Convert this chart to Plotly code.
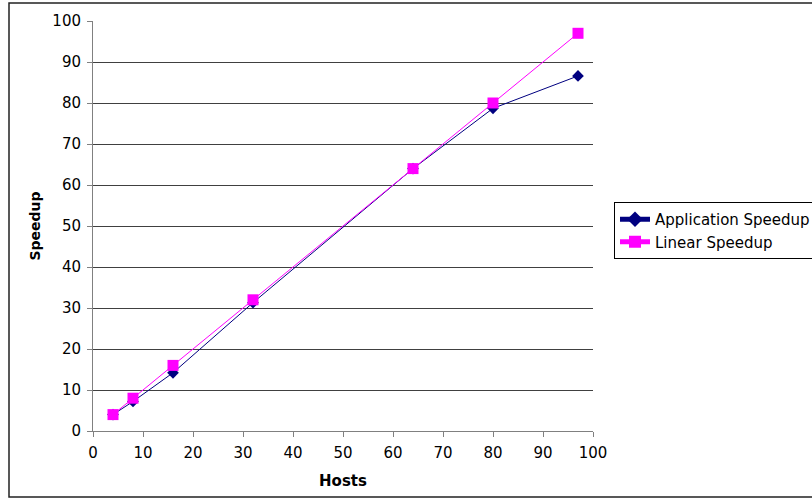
import plotly.graph_objects as go

hosts = [4, 8, 16, 32, 64, 80, 97]
app_speedup = [4, 7.2, 14.2, 31.3, 64, 78.7, 86.6]
linear_speedup = [4, 8, 16, 32, 64, 80, 97]

fig = go.Figure()
fig.add_trace(go.Scatter(x=hosts, y=app_speedup, mode="lines+markers",
                         name="Application Speedup",
                         line=dict(color="#000080", width=1),
                         marker=dict(symbol="diamond", size=9, color="#000080")))
fig.add_trace(go.Scatter(x=hosts, y=linear_speedup, mode="lines+markers",
                         name="Linear Speedup",
                         line=dict(color="#FF00FF", width=1),
                         marker=dict(symbol="square", size=11, color="#FF00FF")))

L, R, T, B = 93, 593, 21, 431
W, H = 812, 501
pw, ph = R - L, B - T

fig.update_layout(
    width=W, height=H,
    margin=dict(l=L, r=W - R, t=T, b=H - B, autoexpand=False),
    paper_bgcolor="white", plot_bgcolor="white",
    font=dict(family="DejaVu Sans, Arial, sans-serif", size=15, color="black"),
    showlegend=True,
    legend=dict(x=(614 - L) / pw, y=(B - 202) / ph, xanchor="left", yanchor="top",
                bordercolor="black", borderwidth=1, bgcolor="white",
                font=dict(size=15), tracegroupgap=0, itemsizing="constant"),
    xaxis=dict(range=[0, 100], dtick=10, tick0=0, showgrid=False, zeroline=False,
               showline=True, linecolor="#808080", linewidth=1,
               ticks="outside", ticklen=5, tickcolor="#808080", ticklabelstandoff=3,
               tickfont=dict(size=15),
               title=dict(text="<b>Hosts</b>", standoff=14, font=dict(size=15))),
    yaxis=dict(range=[0, 100], dtick=10, tick0=0, showgrid=True, gridcolor="#404040",
               gridwidth=1, zeroline=False,
               showline=True, linecolor="#808080", linewidth=1,
               ticks="outside", ticklen=5, tickcolor="#808080", ticklabelstandoff=3,
               tickfont=dict(size=15),
               title=dict(text="<b>Speedup</b>", standoff=8, font=dict(size=14))),
    shapes=[dict(type="rect", xref="paper", yref="paper",
                 x0=(9 - L) / pw, x1=(830 - L) / pw,
                 y0=(B - 497) / ph, y1=(B - 3) / ph,
                 line=dict(color="#222222", width=1.5), fillcolor="rgba(0,0,0,0)",
                 layer="below")],
)

fig.write_html("out.html")
